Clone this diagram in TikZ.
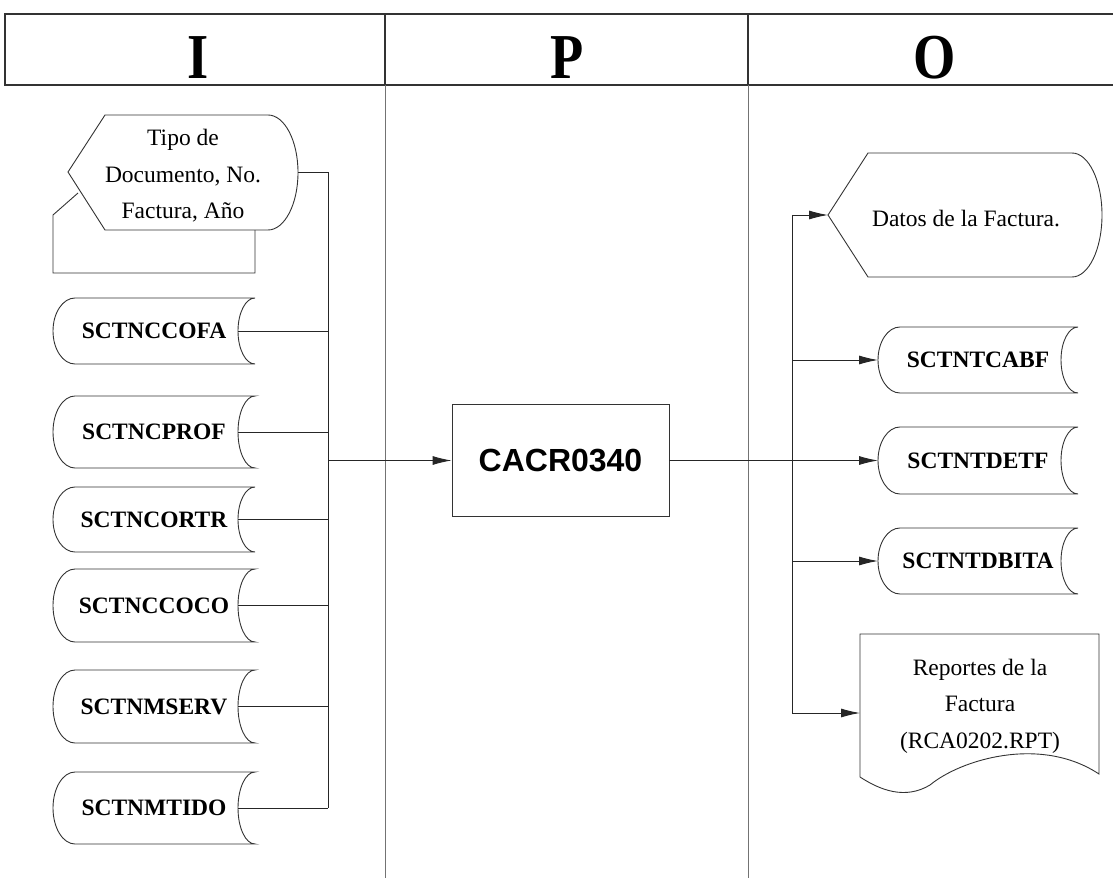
\documentclass[tikz,border=0pt]{standalone}
\usepackage{fontspec}
\setmainfont{Liberation Serif}
\newfontfamily\arialf{Liberation Sans}
\usetikzlibrary{arrows.meta}
\tikzset{
  shp/.style={draw=black!80, line width=0.9pt},
  conn/.style={draw=black!85, line width=0.9pt},
  arr/.style={conn, -{Latex[length=19pt,width=9pt]}},
  storedtxt/.style={font=\fontsize{23.5}{26}\selectfont\bfseries, inner sep=0pt},
  plaintxt/.style={font=\fontsize{23.5}{36.5}\selectfont, align=center, inner sep=0pt},
  headtxt/.style={font=\fontsize{64}{64}\selectfont\bfseries, inner sep=0pt},
  colline/.style={draw=black!55, line width=0.7pt},
  headline/.style={draw=black!80, line width=1.6pt},
}
\newcommand\storedshape[6]{%
  \pgfmathsetmacro\sh{(#5-#4)/2}%
  \pgfmathsetmacro\sm{(#4+#5)/2}%
  \draw[shp] (#3,#4) arc[start angle=90,end angle=270,x radius=17pt,y radius=\sh pt]
     -- ({#2+22},#5) arc[start angle=270,end angle=90,x radius=22pt,y radius=\sh pt] -- cycle;
  \node[storedtxt] (#1) at ({(#2+#3)/2},\sm) {#6};
  \coordinate (#1-r) at ({#3-17},\sm);
  \coordinate (#1-l) at (#2,\sm);
}
\begin{document}
\begin{tikzpicture}[x=1pt,y=-1pt]
\useasboundingbox (0,0) rectangle (1113,885);
% header
\draw[headline] (1113,14) -- (5,14) -- (5,85) -- (1113,85);
\draw[colline] (385,14) -- (385,878);
\draw[colline] (748,14) -- (748,878);
\draw[headline] (385,14) -- (385,85);
\draw[headline] (748,14) -- (748,85);
\node[headtxt] (hI) at (198,58) {\scalebox{0.85}[1]{I}};
\node[headtxt] (hP) at (567,58) {\scalebox{0.85}[1]{P}};
\node[headtxt] (hO) at (935,58) {\scalebox{0.85}[1]{O}};

% input display with manual-input remnant
\draw[shp] (78,193) -- (53,215) -- (53,273) -- (255,273) -- (255,230);
\draw[shp, fill=white] (68,172) -- (105,115) -- (268,115)
   arc[start angle=90,end angle=-90,x radius=30pt,y radius=57.5pt] -- (105,230) -- cycle;
\node[plaintxt] (tipo) at (183,176) {Tipo de\\Documento, No.\\Factura, Año};
\coordinate (tipo-r) at (298,172);

% input stored data
\storedshape{cofa}{53}{255}{298}{364}{SCTNCCOFA}
\storedshape{prof}{53}{255}{396}{468}{SCTNCPROF}
\storedshape{cortr}{53}{255}{487}{552}{SCTNCORTR}
\storedshape{coco}{53}{255}{569}{642}{SCTNCCOCO}
\storedshape{mserv}{53}{255}{670}{743}{SCTNMSERV}
\storedshape{mtido}{53}{255}{772}{844}{SCTNMTIDO}

% input trunk
\coordinate (jtop) at (328,172);
\coordinate (jbot) at (328,808);
\draw[conn] (tipo-r) -- (jtop) -- (jbot);
\draw[conn] (cofa-r) -- (cofa-r -| jtop);
\draw[conn] (prof-r) -- (prof-r -| jtop);
\draw[conn] (cortr-r) -- (cortr-r -| jtop);
\draw[conn] (coco-r) -- (coco-r -| jtop);
\draw[conn] (mserv-r) -- (mserv-r -| jtop);
\draw[conn] (mtido-r) -- (jbot);

% process
\node[shp, minimum width=217pt, minimum height=112pt, inner sep=0pt,
      font=\arialf\fontsize{32}{32}\selectfont\bfseries] (proc) at (560.5,460.5) {CACR0340};
\draw[arr] (proc.west -| jtop) -- (proc.west);

% output display
\draw[shp] (828,215) -- (868,153) -- (1072,153)
   arc[start angle=90,end angle=-90,x radius=30pt,y radius=62pt] -- (868,277) -- cycle;
\node[plaintxt] (datos) at (966,219) {Datos de la Factura.};
\coordinate (datos-l) at (828,215);

% output stored data
\storedshape{cabf}{878}{1078}{327}{393}{SCTNTCABF}
\storedshape{detf}{878}{1078}{427}{494}{SCTNTDETF}
\storedshape{dbita}{878}{1078}{528}{594}{SCTNTDBITA}

% report document
\draw[shp] (860,777) -- (860,634) -- (1099,634) -- (1099,774)
   .. controls (1040,735) and (960,760) .. (930,785)
   .. controls (905,800) and (880,790) .. (860,777);
\node[plaintxt] (rep) at (980,706) {Reportes de la\\Factura\\(RCA0202.RPT)};
\coordinate (rep-l) at (860,713);

% output trunk
\coordinate (ttop) at (792,215);
\coordinate (tbot) at (792,713);
\draw[conn] (ttop) -- (tbot);
\draw[arr] (ttop) -- (datos-l);
\draw[arr] (cabf-l -| ttop) -- (cabf-l);
\draw[arr] (proc.east) -- (detf-l);
\draw[arr] (dbita-l -| ttop) -- (dbita-l);
\draw[arr] (tbot) -- (rep-l);
\end{tikzpicture}
\end{document}
